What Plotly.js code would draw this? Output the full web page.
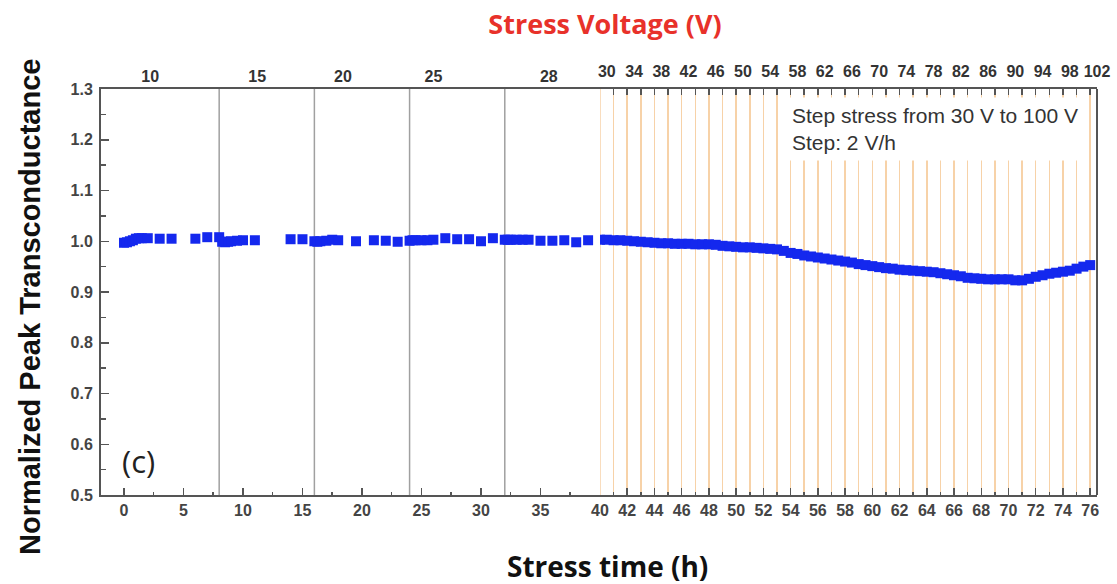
<!DOCTYPE html>
<html>
<head>
<meta charset="utf-8">
<script src="https://cdn.plot.ly/plotly-3.0.1.min.js"></script>
<style>html,body{margin:0;padding:0;background:#fff;}#chart{width:1117px;height:584px;}</style>
</head>
<body>
<div id="chart"></div>
<script>
// ---- data ----
// constant-voltage phase (0-40 h)
var timeLeft = [0,0.25,0.5,0.75,1,1.25,1.5,2,3,4,6,7,
  8,8.25,8.5,8.75,9,9.5,10,11,14,15,
  16,16.25,16.5,17,17.5,18,19.5,21,22,23,
  24,24.25,24.5,25,25.5,26,27,28,29,30,31,
  32,32.25,32.5,33,33.5,34,35,36,37,38,39];
var gmLeft = [0.997,0.998,1.000,1.002,1.005,1.006,1.006,1.006,1.005,1.005,1.005,1.008,
  1.008,0.999,0.998,0.999,1.000,1.001,1.002,1.002,1.004,1.004,
  1.000,0.999,1.000,1.001,1.003,1.002,1.000,1.002,1.001,0.999,
  1.001,1.002,1.002,1.002,1.002,1.003,1.006,1.004,1.004,1.000,1.006,
  1.003,1.003,1.003,1.003,1.003,1.003,1.001,1.001,1.002,0.998,1.002];
// step-stress phase (40-76 h)
var timeRight = [40,40.5,41,41.5,42,42.5,43,43.5,44,44.5,45,45.5,46,46.5,47,47.5,48,48.5,49,49.5,
  50,50.5,51,51.5,52,52.5,53,53.5,54,54.5,55,55.5,56,56.5,57,57.5,58,58.5,59,59.5,
  60,60.5,61,61.5,62,62.5,63,63.5,64,64.5,65,65.5,66,66.5,67,67.5,68,68.5,69,69.5,
  70,70.5,71,71.5,72,72.5,73,73.5,74,74.5,75,75.5,76];
var gmRight = [1.003,1.003,1.002,1.002,1.001,1.000,0.999,0.998,0.997,0.996,0.996,0.995,0.995,0.995,0.994,0.994,0.994,0.993,0.991,0.990,
  0.989,0.988,0.988,0.987,0.986,0.985,0.984,0.981,0.977,0.975,0.972,0.970,0.968,0.966,0.964,0.962,0.960,0.958,0.955,0.953,
  0.951,0.949,0.947,0.946,0.944,0.943,0.942,0.941,0.940,0.939,0.937,0.935,0.933,0.931,0.928,0.927,0.926,0.925,0.925,0.925,
  0.925,0.923,0.923,0.926,0.930,0.933,0.936,0.938,0.940,0.942,0.946,0.950,0.953];
// segment boundaries of the constant-voltage phase (h)
var segmentBounds = [8,16,24,32];
var stepStressStart = 40;
// top axis: stress voltage labels
var leftVolt = ['10','15','20','25','28'];
var leftVoltTime = [2.2,11.2,18.4,26,35.7];
var rightVolt = ['30','34','38','42','46','50','54','58','62','66','70','74','78','82','86','90','94','98','102'];
var rightVoltStart = [40,42,44,46,48,50,52,54,56,58,60,62,64,66,68,70,72,74,76];
var leftTicks = [0,5,10,15,20,25,30,35];

// ---- chart ----
var axisCol = '#555';
var tickFont = {family:'Arial', size:16, color:'#444', weight:'bold'};
var topFont = {family:'Arial', size:16, color:'#333', weight:'bold'};
var blue = '#1428ee';
var orange = '#f7d2a8';

var traces = [
  {x: timeLeft, y: gmLeft, xaxis:'x', yaxis:'y', mode:'markers', type:'scatter',
   marker:{symbol:'square', size:10, color:blue}, hoverinfo:'x+y'},
  {x: timeRight, y: gmRight, xaxis:'x2', yaxis:'y', mode:'markers', type:'scatter',
   marker:{symbol:'square', size:10, color:blue}, hoverinfo:'x+y'},
  {x:[20], y:[null], xaxis:'x3', yaxis:'y', mode:'markers', hoverinfo:'skip'},
  {x:[60], y:[null], xaxis:'x4', yaxis:'y', mode:'markers', hoverinfo:'skip'},
  {x:[60], y:[null], xaxis:'x5', yaxis:'y', mode:'markers', hoverinfo:'skip'}
];

var rightLabelPos = rightVoltStart.map(function(h){ return h + 0.5; });
var rangeL = [-1.93, 40], rangeR = [40, 76.5];

var shapes = segmentBounds.map(function(h){
  return {type:'line', xref:'x', yref:'paper', x0:h, x1:h, y0:0, y1:1,
          line:{color:'#a0a0a0', width:1.5}, layer:'below'};
});
shapes.push({type:'line', xref:'x2', yref:'paper', x0:stepStressStart, x1:stepStressStart, y0:0, y1:1,
             line:{color:orange, width:1.5}, layer:'below'});
shapes.push({type:'line', xref:'paper', yref:'paper', x0:1, x1:1, y0:0, y1:1,
             line:{color:axisCol, width:2}});

var layout = {
  width:1117, height:584,
  margin:{l:101, r:20, t:89, b:89},
  paper_bgcolor:'#fff', plot_bgcolor:'#fff',
  showlegend:false,
  title:{text:'Stress Voltage (V)', x:605/1117, xanchor:'center', xref:'container',
         y:1-25/584, yanchor:'middle', yref:'container',
         font:{family:'Open Sans', size:27, weight:'bold', color:'#e8312a'}},
  xaxis:{domain:[0,0.501], range:rangeL, anchor:'y', tickmode:'array', tickvals:leftTicks,
         ticks:'inside', ticklen:7, tickwidth:1.5, tickcolor:axisCol,
         minor:{ticks:'inside', ticklen:3, tickwidth:1.5, tickcolor:axisCol, tickmode:'linear', tick0:0, dtick:2.5},
         showline:true, linecolor:axisCol, linewidth:2, mirror:true,
         showgrid:false, zeroline:false, tickfont:tickFont, fixedrange:true},
  xaxis2:{domain:[0.501,1], range:rangeR, anchor:'y', tickmode:'linear', tick0:40, dtick:2,
         ticks:'inside', ticklen:7, tickwidth:1.5, tickcolor:axisCol,
         minor:{ticks:'inside', ticklen:3, tickwidth:1.5, tickcolor:axisCol, tickmode:'linear', tick0:40, dtick:1},
         showline:true, linecolor:axisCol, linewidth:2, mirror:true,
         showgrid:false, zeroline:false, tickfont:tickFont, fixedrange:true},
  xaxis3:{overlaying:'x', side:'top', anchor:'y', range:rangeL, tickmode:'array',
         tickvals:leftVoltTime, ticktext:leftVolt, ticks:'', showline:false, showgrid:false,
         zeroline:false, tickfont:topFont, ticklabelstandoff:3, fixedrange:true},
  xaxis4:{overlaying:'x2', side:'top', anchor:'y', range:rangeR, tickmode:'linear', tick0:40, dtick:1,
         ticks:'inside', ticklen:6, tickwidth:1.5, tickcolor:axisCol, showticklabels:false,
         showgrid:true, gridcolor:orange, gridwidth:1.5, showline:false, zeroline:false, fixedrange:true},
  xaxis5:{overlaying:'x2', side:'top', anchor:'y', range:rangeR, tickmode:'array',
         tickvals:rightLabelPos, ticktext:rightVolt, ticks:'', showline:false, showgrid:false,
         zeroline:false, tickfont:topFont, ticklabelstandoff:8, fixedrange:true},
  yaxis:{range:[0.5,1.3], tickmode:'linear', tick0:0.5, dtick:0.1, tickformat:'.1f',
         ticks:'inside', ticklen:8, tickwidth:1.5, tickcolor:axisCol,
         minor:{ticks:'inside', ticklen:5, tickwidth:1.5, tickcolor:axisCol, tickmode:'linear', tick0:0.5, dtick:0.05},
         showline:true, linecolor:axisCol, linewidth:2, mirror:false,
         showgrid:false, zeroline:false, tickfont:tickFont, ticklabelstandoff:3, fixedrange:true},
  shapes: shapes,
  annotations:[
    {xref:'paper', yref:'paper', x:(785-101)/996, y:(495-97)/406, xanchor:'left', yanchor:'top',
     align:'left', showarrow:false, bgcolor:'#fff', borderpad:6,
     text:'Step stress from 30 V to 100 V<br>Step: 2 V/h',
     font:{family:'Arial', size:21, color:'#333'}},
    {xref:'paper', yref:'paper', x:(138-101)/996, y:(495-461)/406, xanchor:'center', yanchor:'middle',
     showarrow:false, text:'(c)', font:{family:'Open Sans', size:31, color:'#222'}},
    {xref:'paper', yref:'paper', x:(607-101)/996, y:(495-566)/406, xanchor:'center', yanchor:'middle',
     showarrow:false, text:'Stress time (h)', font:{family:'Open Sans', size:28, weight:'bold', color:'#111'}},
    {xref:'paper', yref:'paper', x:(30-101)/996, y:(495-307)/406, xanchor:'center', yanchor:'middle',
     textangle:-90, showarrow:false, text:'Normalized Peak Transconductance',
     font:{family:'Arial', size:29, weight:'bold', color:'#111'}}
  ]
};

Plotly.newPlot('chart', traces, layout, {displayModeBar:false, staticPlot:true});
</script>
</body>
</html>
